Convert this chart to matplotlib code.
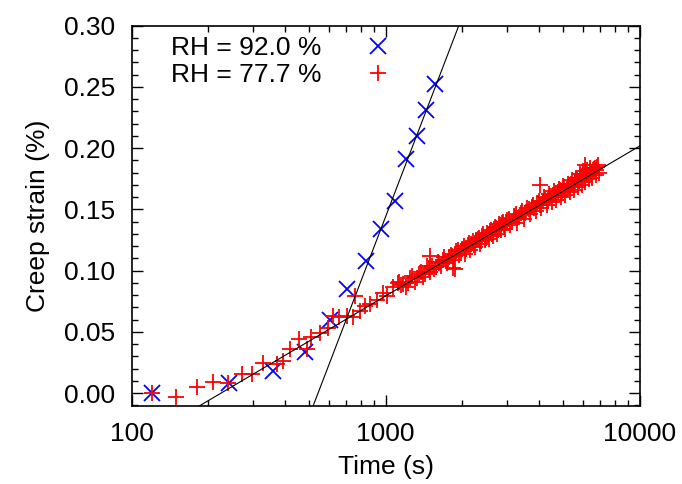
import numpy as np
import matplotlib
matplotlib.use("Agg")
import matplotlib.pyplot as plt
from matplotlib.ticker import FixedLocator, LogLocator, MultipleLocator, FormatStrFormatter, NullFormatter

plt.rcParams['font.family'] = ['Liberation Sans', 'DejaVu Sans']

# RH = 92.0 % (time in s, creep strain in %)
t_920 = [120, 242, 359, 481, 603, 706, 836, 957, 1088, 1202, 1324, 1442, 1563]
eps_920 = [0.000, 0.008, 0.018, 0.034, 0.060, 0.085, 0.108, 0.134, 0.157, 0.191, 0.210, 0.231, 0.252]

# RH = 77.7 %
t_777 = [120, 150, 181, 209, 240, 271, 299, 330, 372, 393, 420, 454, 488, 507, 551, 594,
         622, 657, 702, 741, 757, 792, 829, 867, 922, 979, 1015, 1071, 1122,
         1150, 1200, 1250, 1300, 1350, 1400, 1450, 1500, 1550, 1600, 1650, 1700, 1750,
         1800, 1841, 1850, 1900, 1950, 2000, 2050, 2100, 2150, 2200, 2250, 2300, 2350,
         2400, 2450, 2500, 2550, 2600, 2650, 2700, 2750, 2800, 2850, 2900, 2950, 3000,
         3100, 3200, 3300, 3400, 3500, 3600, 3700, 3800, 3900, 4000, 4045, 4100, 4200,
         4300, 4400, 4500, 4600, 4700, 4800, 4900, 5000, 5100, 5200, 5300, 5400, 5500,
         5600, 5700, 5800, 5900, 6000, 6095, 6100, 6200, 6300, 6400, 6500, 6600, 6700,
         6800, 6900,
         1125, 1175, 1225, 1275, 1325, 1375, 1425, 1475, 1493, 1525, 1575, 1625, 1675,
         1725, 1775, 1825, 1875, 1875, 1925, 1975, 2025, 2075, 2125, 2175, 2225, 2275,
         2325, 2375, 2425, 2475, 2525, 2575, 2625, 2675, 2725, 2775, 2825, 2875, 2925,
         2975, 3050, 3150, 3250, 3350, 3450, 3550, 3650, 3750, 3850, 3950, 4050, 4150,
         4250, 4350, 4450, 4550, 4650, 4750, 4850, 4950, 5050, 5150, 5250, 5350, 5450,
         5550, 5650, 5750, 5850, 5950, 6050, 6150, 6250, 6350, 6450, 6550, 6650, 6750,
         6850]
eps_777 = [0.000, -0.003, 0.005, 0.009, 0.008, 0.016, 0.016, 0.025, 0.024, 0.026, 0.036, 0.044,
           0.036, 0.046, 0.049, 0.053, 0.063, 0.062, 0.063, 0.062, 0.079, 0.067, 0.071, 0.073,
           0.076, 0.082, 0.079, 0.087, 0.090,
           0.088, 0.087, 0.094, 0.091, 0.097, 0.095, 0.104, 0.099, 0.101, 0.107, 0.104, 0.111,
           0.106, 0.113, 0.102, 0.109, 0.116, 0.113, 0.118, 0.114, 0.121, 0.117, 0.124, 0.119,
           0.126, 0.122, 0.128, 0.125, 0.131, 0.126, 0.133, 0.128, 0.136, 0.130, 0.138, 0.133,
           0.140, 0.134, 0.141, 0.137, 0.145, 0.139, 0.147, 0.142, 0.151, 0.146, 0.154, 0.149,
           0.157, 0.170, 0.151, 0.160, 0.154, 0.163, 0.156, 0.165, 0.158, 0.167, 0.160, 0.169,
           0.162, 0.171, 0.164, 0.174, 0.166, 0.176, 0.168, 0.179, 0.170, 0.181, 0.186, 0.172,
           0.182, 0.175, 0.184, 0.176, 0.183, 0.178, 0.185, 0.180,
           0.091, 0.089, 0.090, 0.096, 0.094, 0.099, 0.097, 0.102, 0.112, 0.104, 0.103, 0.106,
           0.109, 0.108, 0.111, 0.112, 0.114, 0.101, 0.117, 0.116, 0.120, 0.118, 0.123, 0.122,
           0.121, 0.125, 0.127, 0.124, 0.130, 0.127, 0.129, 0.132, 0.130, 0.134, 0.135, 0.133,
           0.137, 0.139, 0.137, 0.140, 0.142, 0.140, 0.146, 0.144, 0.149, 0.147, 0.150, 0.152,
           0.151, 0.155, 0.154, 0.157, 0.159, 0.158, 0.161, 0.162, 0.163, 0.164, 0.166, 0.165,
           0.168, 0.167, 0.169, 0.171, 0.170, 0.173, 0.174, 0.173, 0.176, 0.177, 0.176, 0.179,
           0.178, 0.181, 0.180, 0.182, 0.184, 0.182, 0.186]

# fits: strain = a * log10(t) + b
fit_920 = [0.5414, -1.4800]
fit_777 = [0.1224, -0.2878]

fig = plt.figure(figsize=(6.82, 4.84), dpi=100)
ax = fig.add_axes([0.193, 0.162, 0.745, 0.785])

ax.plot(t_920, eps_920, 'x', color='#0000ff', ms=11, mew=1.3, label='RH = 92.0 %')
ax.plot(t_777, eps_777, '+', color='#ff0000', ms=11, mew=1.3, label='RH = 77.7 %')

tt = np.logspace(2, 4, 400)
ax.plot(tt, fit_920[0] * np.log10(tt) + fit_920[1], color='black', lw=0.8)
ax.plot(tt, fit_777[0] * np.log10(tt) + fit_777[1], color='black', lw=0.8)

ax.set_xscale('log')
ax.set_xlim(100, 10000)
ax.set_ylim(-0.0101, 0.30)
ax.xaxis.set_major_locator(FixedLocator([100, 1000, 10000]))
ax.xaxis.set_major_formatter(FormatStrFormatter('%d'))
ax.xaxis.set_minor_locator(LogLocator(base=10, subs=np.arange(2, 10)))
ax.xaxis.set_minor_formatter(NullFormatter())
ax.yaxis.set_major_locator(MultipleLocator(0.05))
ax.yaxis.set_minor_locator(MultipleLocator(0.01))
ax.yaxis.set_major_formatter(FormatStrFormatter('%.2f'))

ax.tick_params(which='both', direction='in', top=True, right=True, labelsize=19, width=1.0)
ax.tick_params(which='major', length=8, pad=12)
ax.tick_params(which='minor', length=4)
for s in ax.spines.values():
    s.set_linewidth(1.2)

ax.set_xlabel('Time (s)', fontsize=19, labelpad=6)
ax.set_ylabel('Creep strain (%)', fontsize=19, labelpad=10)

ax.legend(loc='upper left', bbox_to_anchor=(0.03, 1.035), frameon=False, markerfirst=False,
          fontsize=19, handlelength=1.5, handletextpad=1.4, labelspacing=0.1)

fig.savefig('out.png', dpi=100)
